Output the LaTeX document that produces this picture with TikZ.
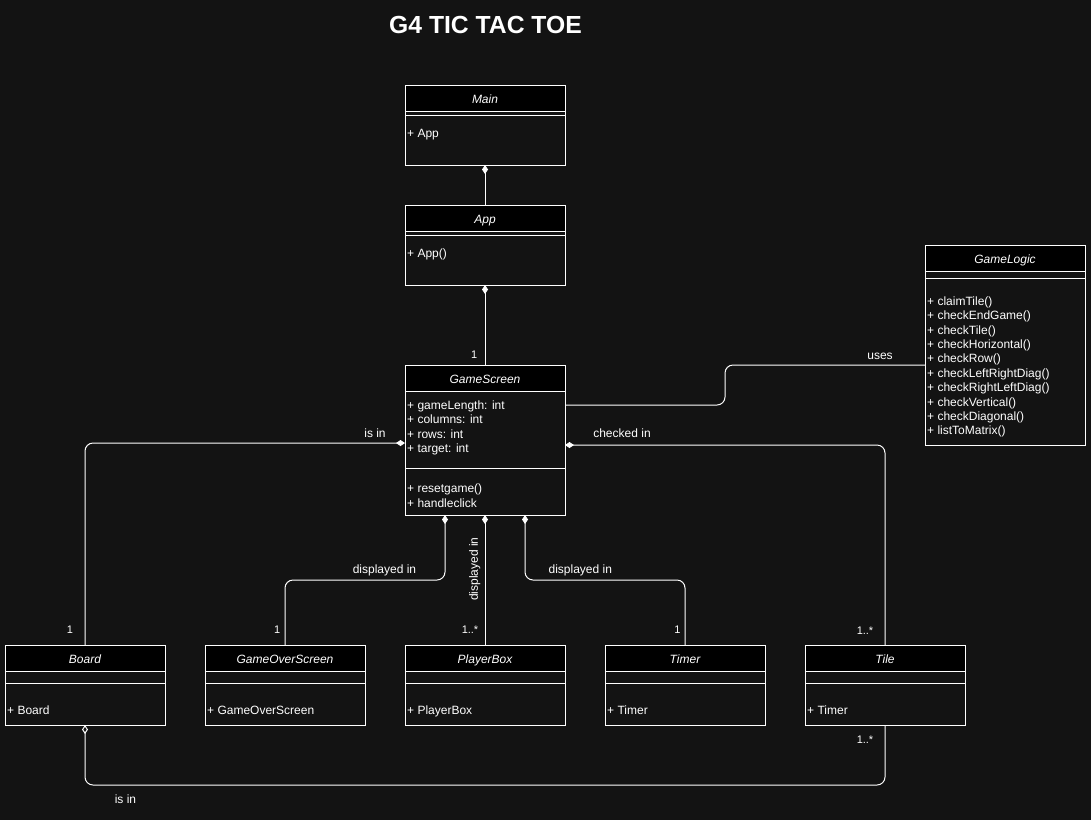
\documentclass[tikz,border=0pt]{standalone}
\usepackage{fontspec}
\setmainfont{Liberation Sans}
\usetikzlibrary{arrows.meta,calc}
\definecolor{bgc}{HTML}{131313}
\tikzset{
  clsframe/.style={draw=white, line width=1pt, fill=bgc, inner sep=0pt, outer sep=0pt},
  wline/.style={draw=white, line width=1pt},
  conn/.style={draw=white, line width=1pt, rounded corners=8pt},
  txt/.style={text=white, font=\fontsize{12}{14}\selectfont, inner sep=0pt, anchor=base west},
  ttl/.style={text=white, font=\itshape\fontsize{12}{14}\selectfont, inner sep=0pt, anchor=base},
  lbl/.style={text=white, font=\fontsize{12}{14}\selectfont, inner sep=0pt, anchor=base},
  mult/.style={text=white, font=\fontsize{11}{13}\selectfont, inner sep=0pt, anchor=base},
  comp/.tip={Diamond[length=9pt,width=6pt]},
  aggr/.tip={Diamond[open,length=9pt,width=6pt]},
}
% name, left, top, width, height, title
\newcommand\clsbox[6]{%
  \node[clsframe, minimum width=#4pt, minimum height=#5pt, anchor=north west] (#1) at (#2,#3) {};
  \fill[black] (#1.north west) rectangle ++(#4,26.5);
  \draw[wline] (#1.north west) rectangle ++(#4,#5);
  \draw[wline] (#1.north west) ++(0,26.5) -- ++(#4,0);
  \node[ttl] (#1-title) at ($(#1.north)+(0,18)$) {#6};
}
\newcommand\sepline[2]{\draw[wline] (#1.north west) ++(0,#2) -- ++(160,0);}
\begin{document}
\begin{tikzpicture}[x=1pt,y=-1pt]
\fill[bgc] (0,0) rectangle (1091,820);
\useasboundingbox (0,0) rectangle (1091,820);

\node[text=white, font=\bfseries\fontsize{24.7}{28}\selectfont, inner sep=0pt, anchor=base] (title) at (485.5,33.3) {G4 TIC TAC TOE};

% Main
\clsbox{main}{405}{85}{160}{80}{Main}
\sepline{main}{30}
\node[txt] (main-a) at ($(main.north west)+(2,52.5)$) {+ App};

% App
\clsbox{app}{405}{205}{160}{80}{App}
\sepline{app}{30}
\node[txt] (app-a) at ($(app.north west)+(2,52.5)$) {+ App()};

% GameScreen
\clsbox{gs}{405}{365}{160}{150}{GameScreen}
\sepline{gs}{103}
\node[txt] (gs-1) at ($(gs.north west)+(2,44.3)$) {+ gameLength: int};
\node[txt] (gs-2) at ($(gs.north west)+(2,58.7)$) {+ columns: int};
\node[txt] (gs-3) at ($(gs.north west)+(2,73.1)$) {+ rows: int};
\node[txt] (gs-4) at ($(gs.north west)+(2,87.5)$) {+ target: int};
\node[txt] (gs-5) at ($(gs.north west)+(2,127.6)$) {+ resetgame()};
\node[txt] (gs-6) at ($(gs.north west)+(2,142)$) {+ handleclick};

% GameLogic
\clsbox{gl}{925}{245}{160}{200}{GameLogic}
\sepline{gl}{33.3}
\foreach \t [count=\i from 0] in {claimTile(),checkEndGame(),checkTile(),checkHorizontal(),checkRow(),checkLeftRightDiag(),checkRightLeftDiag(),checkVertical(),checkDiagonal(),listToMatrix()}
  \node[txt] (gl-\i) at ($(gl.north west)+(2,60.3+14.4*\i)$) {+ \t};

% bottom row
\clsbox{board}{5}{645}{160}{80}{Board}
\sepline{board}{38.3}
\node[txt] (board-a) at ($(board.north west)+(2,69.3)$) {+ Board};
\clsbox{go}{205}{645}{160}{80}{GameOverScreen}
\sepline{go}{38.3}
\node[txt] (go-a) at ($(go.north west)+(2,69.3)$) {+ GameOverScreen};
\clsbox{pb}{405}{645}{160}{80}{PlayerBox}
\sepline{pb}{38.3}
\node[txt] (pb-a) at ($(pb.north west)+(2,69.3)$) {+ PlayerBox};
\clsbox{timer}{605}{645}{160}{80}{Timer}
\sepline{timer}{38.3}
\node[txt] (timer-a) at ($(timer.north west)+(2,69.3)$) {+ Timer};
\clsbox{tile}{805}{645}{160}{80}{Tile}
\sepline{tile}{38.3}
\node[txt] (tile-a) at ($(tile.north west)+(2,69.3)$) {+ Timer};

% connectors
\draw[conn, {comp}-] (main.south) -- (app.north);
\draw[conn, {comp}-] (app.south) -- (gs.north);
\node[mult] (m-gs) at (474.3,358.5) {1};

\draw[conn] ($(gs.north east)+(0,40)$) -- ++(160,0) |- ($(gl.north west)+(0,120)$);
\node[lbl] (l-uses) at (880,359.3) {uses};

\draw[conn, -{comp}] (board.north) |- ($(gs.north west)+(0,78)$);
\node[lbl] (l-isin1) at (375,437.3) {is in};
\node[mult] (m-board) at (70,633.5) {1};

\draw[conn, -{comp}] (tile.north) |- ($(gs.north east)+(0,80)$);
\node[lbl] (l-checked) at (622,437.6) {checked in};
\node[mult] (m-tile1) at (865,634) {1..*};

\draw[conn, -{comp}] (go.north) |- ($(gs.south west)+(40,65)$) -- ($(gs.south west)+(40,0)$);
\node[lbl] (l-disp1) at (384.5,573.6) {displayed in};
\node[mult] (m-go) at (277.3,633.5) {1};

\draw[conn, -{comp}] (pb.north) -- (gs.south);
\node[lbl, rotate=90, anchor=center] (l-disp2) at (474.7,569) {displayed in};
\node[mult] (m-pb) at (470,633.5) {1..*};

\draw[conn, -{comp}] (timer.north) |- ($(gs.south east)+(-40,65)$) -- ($(gs.south east)+(-40,0)$);
\node[lbl] (l-disp3) at (580.3,573.6) {displayed in};
\node[mult] (m-timer) at (677.3,633.5) {1};

\draw[conn, {aggr}-] (board.south) |- ($(tile.south)+(0,60)$) -- (tile.south);
\node[lbl] (l-isin2) at (125.5,803) {is in};
\node[mult] (m-tile2) at (865,743.5) {1..*};
\end{tikzpicture}
\end{document}
